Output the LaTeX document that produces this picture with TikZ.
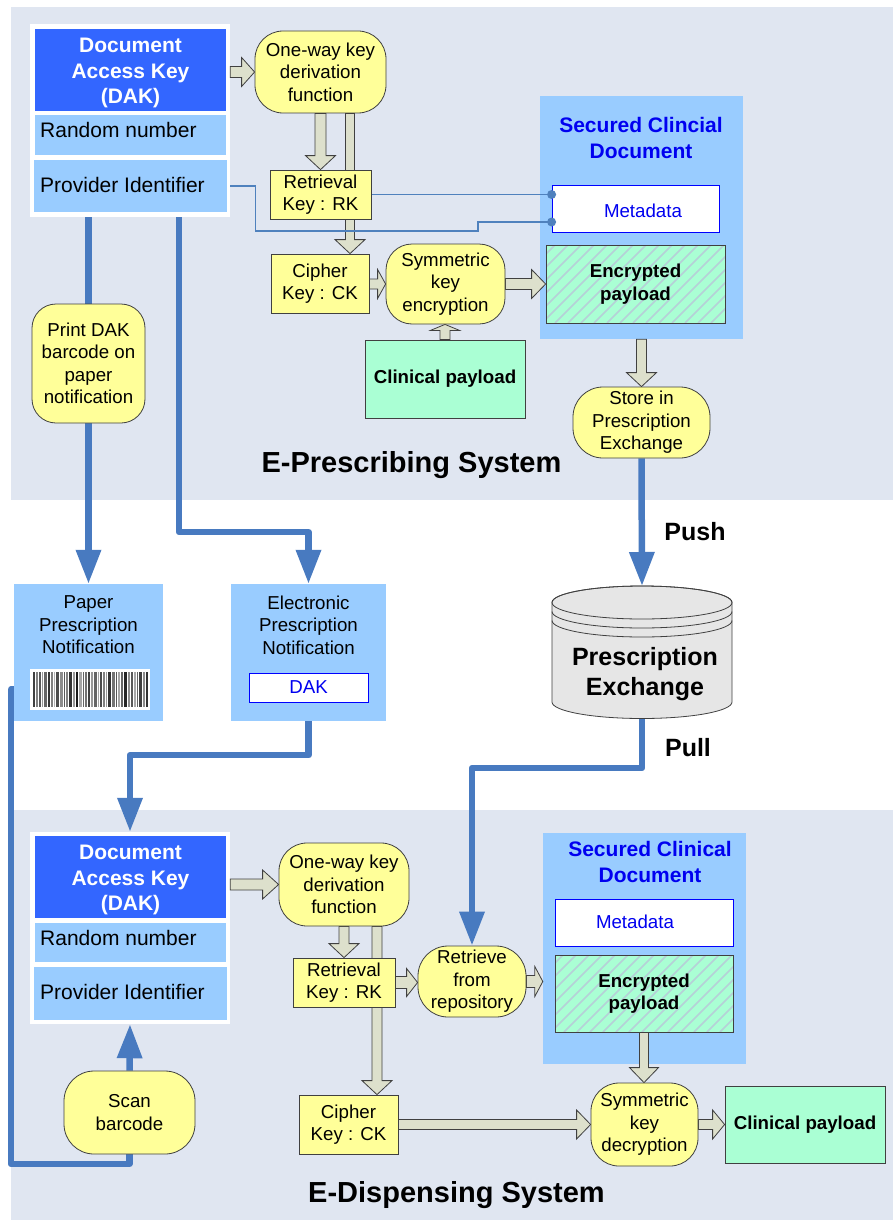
\documentclass[tikz,border=0pt]{standalone}
\usepackage{fontspec}
\setmainfont{Liberation Sans}
\usetikzlibrary{arrows.meta,calc}
\pgfdeclarelayer{bg}
\pgfdeclarelayer{arr}
\pgfsetlayers{bg,arr,main}
\definecolor{panel}{RGB}{224,230,241}
\definecolor{yel}{RGB}{255,255,153}
\definecolor{dg}{RGB}{64,64,64}
\definecolor{lblue}{RGB}{153,204,255}
\definecolor{dblue}{RGB}{51,102,255}
\definecolor{mint}{RGB}{170,255,212}
\definecolor{stripe}{RGB}{182,208,215}
\definecolor{arrfill}{RGB}{221,224,204}
\definecolor{bline}{RGB}{72,122,192}
\definecolor{tline}{RGB}{79,129,189}
\definecolor{txtblue}{RGB}{0,0,240}
\definecolor{cylg}{RGB}{230,230,230}
\newcommand\mysmall{\fontsize{18.7}{22.5}\selectfont}
\newcommand\mysmallb{\fontsize{18.7}{22.5}\selectfont\bfseries}
\newcommand\mybig{\fontsize{21}{25.5}\selectfont}
\newcommand\mybigb{\fontsize{21}{25.5}\selectfont\bfseries}
\newcommand\mytitle{\fontsize{29}{34}\selectfont\bfseries}
\newcommand\mymed{\fontsize{25}{30}\selectfont\bfseries}
\newcommand{\hblk}[5]{\draw[blk] let \p1=(#1), \p2=(#2) in (\x1,\y1+#3pt) -- (\x2-#5pt,\y1+#3pt) -- (\x2-#5pt,\y1+#4pt) -- (\x2,\y1) -- (\x2-#5pt,\y1-#4pt) -- (\x2-#5pt,\y1-#3pt) -- (\x1,\y1-#3pt) -- cycle;}
\newcommand{\vblk}[5]{\draw[blk] let \p1=(#1), \p2=(#2) in (\x1-#3pt,\y1) -- (\x1-#3pt,\y2+#5pt) -- (\x1-#4pt,\y2+#5pt) -- (\x1,\y2) -- (\x1+#4pt,\y2+#5pt) -- (\x1+#3pt,\y2+#5pt) -- (\x1+#3pt,\y1) -- cycle;}
\newcommand{\ublk}[5]{\draw[blk] let \p1=(#1), \p2=(#2) in (\x1-#3pt,\y1) -- (\x1-#3pt,\y2-#5pt) -- (\x1-#4pt,\y2-#5pt) -- (\x1,\y2) -- (\x1+#4pt,\y2-#5pt) -- (\x1+#3pt,\y2-#5pt) -- (\x1+#3pt,\y1) -- cycle;}
\begin{document}
\begin{tikzpicture}[x=1pt,y=-1pt,
  sz/.style 2 args={minimum width=#1pt, minimum height=#2pt},
  ybox/.style={draw=dg, fill=yel, line width=0.8pt, align=center, font=\mysmall, inner sep=0pt},
  yrnd/.style={ybox, rounded corners=#1},
  yrnd/.default=26pt,
  container/.style={fill=lblue, inner sep=0pt},
  whiteframe/.style={fill=white, inner sep=0pt},
  dakstyle/.style={fill=dblue, inner sep=0pt},
  daktext/.style={text=white, font=\mybigb, align=center, inner sep=0pt},
  lbfill/.style={fill=lblue, inner sep=0pt},
  metabox/.style={draw=blue, fill=white, line width=0.8pt, inner sep=0pt},
  lbl/.style={font=\mysmall, text=txtblue, inner sep=0pt},
  mintbox/.style={draw=dg, fill=mint, line width=0.8pt, align=center, font=\mysmallb, inner sep=0pt},
  hatch/.style={path picture={\foreach \i in {-95,-82,...,205} {\draw[stripe, line width=1.6pt] ($(path picture bounding box.south west)+(\i,0)$) -- ++(110pt,110pt);}}},
  blk/.style={fill=arrfill, draw=dg, line width=0.8pt, line join=miter},
  bl/.style={draw=bline, line width=6.5pt, line join=round},
  bla/.style={bl, -{Triangle[length=34pt,width=24pt]}},
  tl/.style={draw=tline, line width=1.2pt},
  dot/.style={fill=tline},
  ttl/.style={font=\mytitle, inner sep=0pt},
  secttl/.style={font=\mybigb, text=txtblue, align=center, inner sep=0pt}
]
\useasboundingbox (0,0) rectangle (893,1220);
\begin{pgfonlayer}{bg}
  \fill[white] (0,0) rectangle (893,1220);
  \fill[panel] (11,7) rectangle (893,500);
  \fill[panel] (11,810) rectangle (893,1220);
  \node[container, sz={203}{243}] (sec1) at (641.5,217.5) {};
  \node[container, sz={203}{231}] (sec2) at (644.5,948.5) {};
  \node[whiteframe, sz={200}{193}] (dakf1) at (130,120.5) {};
  \node[whiteframe, sz={200}{192}] (dakf2) at (130,928) {};
\end{pgfonlayer}

% ---------- E-Prescribing ----------
\node[dakstyle, sz={191}{82}] (dak1) at (130.5,70) {};
\node[daktext] (dak1t) at (130.5,73) {Document\\Access Key\\(DAK)};
\node[lbfill, sz={191}{40}] (rnd1) at (130.5,135) {};
\node[font=\mybig, anchor=west, inner sep=0pt] (rnd1t) at (40,130) {Random number};
\node[lbfill, sz={193}{52}] (prov1) at (130.5,186) {};
\node[font=\mybig, anchor=west, inner sep=0pt] (prov1t) at (40,185) {Provider Identifier};

\node[yrnd=28pt, sz={131}{82}] (one1) at (320.5,72) {One-way key\\derivation\\function};
\node[ybox, sz={101}{49}] (rk1) at (320.5,194.5) {Retrieval\\Key : RK};
\node[ybox, sz={98}{59}] (ck1) at (320,283.5) {Cipher\\Key : CK};
\node[yrnd=26pt, sz={119}{80}] (sym1) at (445.5,284) {Symmetric\\key\\encryption};
\node[mintbox, sz={160}{78}] (clin1) at (445,379) {Clinical payload};
\node[secttl] (sec1t) at (641,138) {Secured Clincial\\Document};
\node[metabox, sz={167}{47}] (meta1) at (635.5,208.5) {};
\node[lbl] (meta1t) at (643,211) {Metadata};
\node[mintbox, hatch, sz={179}{78}] (enc1) at (635.5,284) {Encrypted\\payload};
\node[yrnd=30pt, sz={137}{71}] (store) at (641.5,422.5) {Store in\\Prescription\\Exchange};
\node[yrnd=24pt, sz={113}{119}] (print) at (88.5,363.5) {Print DAK\\barcode on\\paper\\notification};
\node[ttl] (title1) at (411.5,465) {E-Prescribing System};

% ---------- middle ----------
\node[lbfill, sz={149}{137}] (paper) at (88.5,652.5) {};
\node[font=\mysmall, align=center, inner sep=0pt] (papert) at (88.5,625) {Paper\\Prescription\\Notification};
\node[whiteframe, sz={120}{41}] (barcode) at (90,689.5) {};
\foreach \bx/\bw/\bg in {3/2/75,6/2/50,9/2/65,12/1/40,14/3/60,18/2/80,21/2/50,24/1/30,26/3/70,30/3/45,34/1/65,36/2/50,39/3/80,43/2/40,46/2/90,49/3/35,53/1/60,55/2/55,58/2/75,61/2/40,64/3/60,68/1/35,70/2/70,73/2/50,76/1/40,78/3/80,82/3/55,86/1/65,88/2/35,91/2/60,94/3/85,98/2/45,101/2/65,104/2/35,107/1/60,109/3/75,113/2/45,116/2/80}
  \fill[black!\bg] (30+\bx,672) rectangle ++(\bw,35);
\node[lbfill, sz={155}{137}] (elec) at (308.5,652.5) {};
\node[font=\mysmall, align=center, inner sep=0pt] (elect) at (308.5,625) {Electronic\\Prescription\\Notification};
\node[metabox, lbl, sz={119}{29}] (dakb) at (308.5,687.5) {DAK};

% cylinder
\coordinate (pxtop) at (642,586);
\coordinate (pxbot) at (642,718.5);
\filldraw[fill=cylg, draw=dg, line width=0.8pt] (552,602.5) -- (552,702) arc[start angle=180, end angle=360, x radius=90pt, y radius=16.5pt] -- (732,602.5) arc[start angle=0, end angle=180, x radius=90pt, y radius=16.5pt] -- cycle;
\draw[dg, line width=0.8pt] (642,602.5) ellipse [x radius=90pt, y radius=16.5pt];
\draw[dg, line width=0.8pt] (552,611.5) arc[start angle=180, end angle=360, x radius=90pt, y radius=16.5pt];
\draw[dg, line width=0.8pt] (552,620.5) arc[start angle=180, end angle=360, x radius=90pt, y radius=16.5pt];
\node[font=\mymed, align=center, inner sep=0pt] (px) at (645,674) {Prescription\\Exchange};
\node[font=\mymed, inner sep=0pt] (push) at (695,532) {Push};
\node[font=\mymed, inner sep=0pt] (pull) at (688,748) {Pull};

% ---------- E-Dispensing ----------
\node[dakstyle, sz={191}{82}] (dak2) at (130.5,877) {};
\node[daktext] (dak2t) at (130.5,880) {Document\\Access Key\\(DAK)};
\node[lbfill, sz={191}{39}] (rnd2) at (130.5,942.5) {};
\node[font=\mybig, anchor=west, inner sep=0pt] (rnd2t) at (40,938) {Random number};
\node[lbfill, sz={193}{53}] (prov2) at (130.5,993.5) {};
\node[font=\mybig, anchor=west, inner sep=0pt] (prov2t) at (40,992) {Provider Identifier};

\node[yrnd=28pt, sz={130}{83}] (one2) at (344,884.5) {One-way key\\derivation\\function};
\node[ybox, sz={102}{49}] (rk2) at (344,982.5) {Retrieval\\Key : RK};
\node[ybox, sz={99}{59}] (ck2) at (348.5,1124.5) {Cipher\\Key : CK};
\node[yrnd=30pt, sz={108}{71}] (retr) at (472,981.5) {Retrieve\\from\\repository};
\node[secttl] (sec2t) at (650,862) {Secured Clinical\\Document};
\node[metabox, sz={178}{47}] (meta2) at (644,922.5) {};
\node[lbl] (meta2t) at (635,922) {Metadata};
\node[mintbox, hatch, sz={178}{77}] (enc2) at (644,993.5) {Encrypted\\payload};
\node[yrnd=28pt, sz={107}{83}] (symd) at (644.5,1124.5) {Symmetric\\key\\decryption};
\node[mintbox, sz={160}{77}] (clin2) at (805,1124.5) {Clinical payload};
\node[yrnd=30pt, sz={131}{83}] (scan) at (129.5,1112.5) {Scan\\barcode};
\node[ttl] (title2) at (456.5,1195) {E-Dispensing System};

% ---------- connectors ----------
\coordinate (m1a) at (rk1.east -| meta1.west);
\coordinate (m1b) at ($(meta1.west)+(0,13.5)$);
\begin{pgfonlayer}{arr}
  % block arrows, top
  \hblk{dakf1.east |- one1.west}{one1.west}{5.5}{14.5}{13}
  \vblk{one1.south}{rk1.north}{5.5}{15}{14}
  \vblk{$(one1.south)+(29.5,0)$}{ck1.north}{4.5}{15}{14}
  \hblk{ck1.east |- sym1.west}{sym1.west}{5}{14.5}{8}
  \hblk{sym1.east}{enc1.west}{5.5}{14.5}{14}
  \ublk{clin1.north}{sym1.south}{5}{14.5}{6}
  \vblk{sec1.south}{store.north}{5}{15}{14}
  % block arrows, bottom
  \hblk{dakf2.east |- one2.west}{one2.west}{5.5}{14.5}{16}
  \vblk{one2.south}{rk2.north}{5}{15}{14}
  \vblk{$(one2.south)+(33,0)$}{ck2.north}{5}{15}{14}
  \hblk{rk2.east}{retr.west}{6}{14}{11}
  \hblk{retr.east}{sec2.west |- retr.east}{6}{15}{8}
  \vblk{enc2.south}{symd.north}{4.5}{14.5}{15}
  \hblk{ck2.east |- symd.west}{symd.west}{5}{14.5}{14}
  \hblk{symd.east}{clin2.west}{5}{14.5}{12}
  % thin blue lines
  \draw[tl] (rk1.east) -- (m1a);
  \draw[tl] (dakf1.east |- prov1.east) -- ++(25,0) |- (478,231) |- (m1b);
  % thick blue lines
  \draw[bl] (print.north |- dakf1.south) -- (print.north);
  \draw[bla] (print.south) -- (paper.north);
  \coordinate (t1) at (179,532);
  \draw[bla] (dakf1.south -| t1) -- (t1) -- (t1 -| elec.north) -- (elec.north);
  \draw[bla] (elec.south) -- ++(0,34) -| (dakf2.north);
  \draw[bl] (barcode.west) -| (11,1164) -| (scan.south);
  \draw[bla] (scan.north) -- (dakf2.south);
  \draw[bla] (store.south) -- (pxtop);
  \draw[bla] (pxbot) -- ++(0,49.5) -| (retr.north);
\end{pgfonlayer}
\fill[dot] (m1a) circle[radius=4.5pt];
\fill[dot] (m1b) circle[radius=4.5pt];
\end{tikzpicture}
\end{document}
